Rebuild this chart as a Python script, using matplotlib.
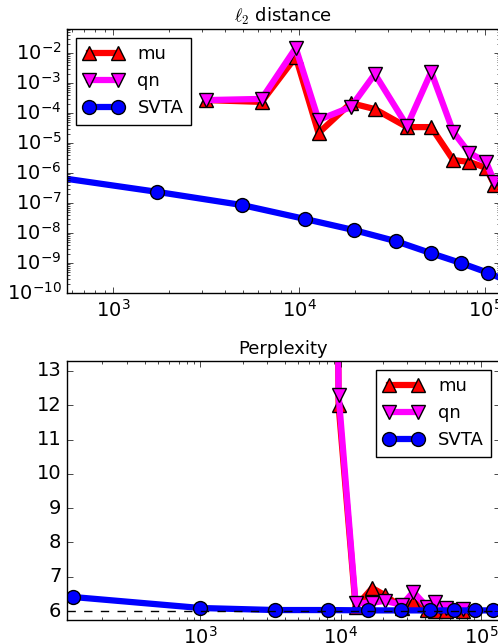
import numpy as np
import matplotlib
matplotlib.use('Agg')
import matplotlib.pyplot as plt

plt.style.use('classic')
plt.rcParams['mathtext.fontset'] = 'cm'
plt.rcParams['axes.unicode_minus'] = False

# ---- l2 distance panel
l2_mu_x = [3170, 6280, 9580, 12700, 18950, 25500, 38000, 51200, 67300, 82000, 101000, 112000]
l2_mu_exp = [-3.57, -3.63, -2.13, -4.67, -3.67, -3.87, -4.47, -4.47, -5.57, -5.63, -5.83, -6.4]
l2_qn_x = l2_mu_x
l2_qn_exp = [-3.57, -3.53, -1.83, -4.23, -3.8, -2.7, -4.43, -2.63, -4.63, -5.33, -5.63, -6.3]
l2_svta_x = [300, 1730, 4950, 10700, 19600, 33000, 51000, 74000, 104000, 150000]
l2_svta_exp = [-5.95, -6.63, -7.07, -7.53, -7.9, -8.27, -8.67, -9.0, -9.33, -9.75]

# ---- perplexity panel
pp_mu_x = [9200, 9680, 12800, 16800, 20600, 27400, 33000, 41500, 47500, 56000, 75000]
pp_mu = [25.0, 12.0, 6.12, 6.67, 6.47, 6.1, 6.27, 6.03, 6.0, 6.0, 6.0]
pp_qn_x = pp_mu_x
pp_qn = [25.0, 12.3, 6.23, 6.24, 6.3, 6.18, 6.56, 6.12, 6.27, 6.1, 6.05]
pp_svta_x = [124, 1000, 3430, 8070, 15600, 26800, 43200, 64100, 90600, 122000]
pp_svta = [6.41, 6.09, 6.03, 6.03, 6.02, 6.02, 6.02, 6.02, 6.02, 6.02]
pp_ref = 6.0

W, H = 498, 644
fig = plt.figure(figsize=(W / 100.0, H / 100.0), dpi=100, facecolor='white')

ax1 = fig.add_axes([67.0 / W, 1 - 293.0 / H, 433.0 / W, 264.0 / H])
ax2 = fig.add_axes([67.0 / W, 1 - 620.0 / H, 433.0 / W, 259.0 / H])

style = dict(lw=4.5, ms=10, mec='k', mew=1)

ax1.loglog(l2_mu_x, 10 ** np.array(l2_mu_exp), '-^', color='r', mfc='r', label='mu', **style)
ax1.loglog(l2_qn_x, 10 ** np.array(l2_qn_exp), '-v', color='#ff00ff', mfc='#ff00ff', label='qn', **style)
ax1.loglog(l2_svta_x, 10 ** np.array(l2_svta_exp), '-o', color='b', mfc='b', label='SVTA', **style)
ax1.set_xlim(565, 120000)
ax1.set_ylim(1e-10, 10 ** -1.2)
ax1.set_title(r'$\ell_2$ distance', fontsize=13)
ax1.legend(loc='upper left', fontsize=13, numpoints=2, handlelength=2.2)

ax2.semilogx(pp_mu_x, pp_mu, '-^', color='r', mfc='r', label='mu', **style)
ax2.semilogx(pp_qn_x, pp_qn, '-v', color='#ff00ff', mfc='#ff00ff', label='qn', **style)
ax2.semilogx(pp_svta_x, pp_svta, '-o', color='b', mfc='b', label='SVTA', **style)
ax2.axhline(pp_ref, color='k', ls='--', lw=1)
ax2.set_xlim(112, 137000)
ax2.set_ylim(5.74, 13.29)
ax2.set_yticks(range(6, 14))
ax2.set_title('Perplexity', fontsize=13)
ax2.legend(loc='upper right', fontsize=13, numpoints=2, handlelength=2.2)

for ax in (ax1, ax2):
    ax.tick_params(labelsize=14)

fig.savefig('out.png', dpi=100, facecolor='white')
